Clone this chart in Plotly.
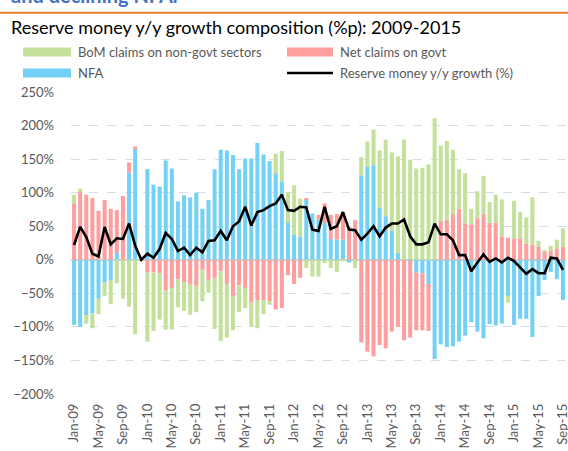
import pandas as pd
import plotly.graph_objects as go

# ---------------- data ----------------
months = [d.strftime("%b-%y") for d in pd.date_range("2009-01-01", "2015-09-01", freq="MS")]
tick_labels = months[::4]

nfa = [-97, -100, -83, -80, -58, -34, -30, 10, 0, 130, 165, 0,
       135, 112, 109, 148, 136, 87, 96, 93, 100, 76, 89, 135,
       164, 163, 156, 135, 151, 151, 174, 157, 147, 129, 117, 56,
       38, 34, 90, 69, 60, 55, 31, 30, 30, -4, 0, 126,
       139, 141, 78, 65, 43, 10, 0, -1, -19, -20, -36, -148,
       -126, -130, -129, -122, -113, -93, -107, -117, -96, -98, -95, -54,
       -97, -88, -88, -115, -54, -30, -18, -29, -60]

govt = [84, 101, 97, 92, 73, 89, 76, 64, 95, 15, 4, 0,
        -19, -19, -20, -45, -42, -29, -34, -36, -39, -15, -30, -27,
        -17, -36, -54, -38, -42, -63, -60, -60, -62, -74, -72, -23,
        -36, -27, 2, 0, 7, 29, 36, 38, 41, 49, 59, -123,
        -137, -144, -127, -132, -107, -100, -120, -115, -86, -85, -70, 0,
        58, 60, 68, 76, 54, 53, 62, 68, 55, 55, 35, 33,
        32, 32, 24, 23, 19, 12, 14, 17, 19]

bom = [13, 5, -12, -22, -23, -20, -36, -35, -58, -70, -111, 0,
       -103, -87, -69, -59, -62, -42, -42, -46, -39, -47, -19, -76,
       -104, -80, -51, -40, -30, -37, -42, -21, -5, 29, 45, 45,
       73, 57, -12, -25, -25, -5, -12, -18, -2, 0, -12, 27,
       37, 53, 85, 114, 117, 144, 179, 149, 136, 137, 142, 211,
       112, 117, 96, 59, 75, 23, 40, 57, 31, 42, 55, -10,
       56, 39, 39, 70, 9, 2, 7, 13, 28]

reserve = [22, 49, 34, 9, 5, 49, 23, 32, 31, 54, 21, 0,
           9, 3, 16, 40, 31, 13, 18, 7, 18, 11, 28, 29,
           43, 29, 50, 57, 79, 51, 71, 74, 80, 84, 97, 74,
           73, 79, 78, 45, 43, 79, 46, 50, 71, 45, 44, 30,
           39, 50, 35, 48, 54, 54, 60, 35, 23, 23, 26, 54,
           38, 38, 29, 7, 7, -17, -4, 8, -3, 2, -4, 3,
           -2, -11, -21, -14, -20, -20, 3, 2, -15]

names = ["BoM claims on non-govt sectors", "Net claims on govt", "NFA",
         "Reserve money y/y growth (%)"]
colors = {"bom": "#C3E19B", "govt": "#FF9E9E", "nfa": "#74D1F6", "line": "#000000"}

# ---------------- layout geometry ----------------
W, H = 568, 451
L, R, T, B = 71, 2, 92, 57
FONT = "Lato"
GREY = "#595959"


def px(x):
    return (x - L) / (W - L - R)


def py(y):
    return (H - B - y) / (H - T - B)


fig = go.Figure()
fig.add_trace(go.Bar(x=months, y=nfa, name=names[2], marker_color=colors["nfa"],
                     marker_line_width=0, showlegend=False))
fig.add_trace(go.Bar(x=months, y=govt, name=names[1], marker_color=colors["govt"],
                     marker_line_width=0, showlegend=False))
fig.add_trace(go.Bar(x=months, y=bom, name=names[0], marker_color=colors["bom"],
                     marker_line_width=0, showlegend=False))
fig.add_trace(go.Scatter(x=months, y=reserve, name=names[3], mode="lines",
                         line=dict(color=colors["line"], width=2.6), showlegend=False))

shapes = []
annotations = []

# header remnants
annotations.append(dict(text="<b>and declining NFA.</b>", x=px(9), y=py(-5), xref="paper", yref="paper",
                        xanchor="left", yanchor="middle", showarrow=False,
                        font=dict(family=FONT, size=20, color="#4472C4")))
shapes.append(dict(type="line", xref="paper", yref="paper", x0=px(0), x1=px(W), y0=py(12.7), y1=py(12.7),
                   line=dict(color="#ED7D31", width=2)))
annotations.append(dict(text="Reserve money y/y growth composition (%p): 2009-2015", x=px(9), y=py(27),
                        xref="paper", yref="paper", xanchor="left", yanchor="middle", showarrow=False,
                        font=dict(family=FONT, size=18, color="#000000")))

# manual legend
legend_items = [
    (names[0], colors["bom"], "bar", 23, 71, 52),
    (names[1], colors["govt"], "bar", 287, 333, 52),
    (names[2], colors["nfa"], "bar", 23, 71, 73),
    (names[3], colors["line"], "line", 287, 333, 73),
]
for label, col, kind, x0, x1, yc in legend_items:
    if kind == "bar":
        shapes.append(dict(type="rect", xref="paper", yref="paper", x0=px(x0), x1=px(x1),
                           y0=py(yc - 4.5), y1=py(yc + 4.5), line=dict(width=0), fillcolor=col))
    else:
        shapes.append(dict(type="line", xref="paper", yref="paper", x0=px(x0), x1=px(x1),
                           y0=py(yc), y1=py(yc), line=dict(color=col, width=2.6)))
    annotations.append(dict(text=label, x=px(x1 + 5), y=py(yc), xref="paper", yref="paper",
                            xanchor="left", yanchor="middle", showarrow=False,
                            font=dict(family=FONT, size=13, color=GREY)))

fig.update_layout(
    width=W, height=H,
    margin=dict(l=L, r=R, t=T, b=B, autoexpand=False),
    paper_bgcolor="white", plot_bgcolor="white",
    barmode="relative", bargap=0.34,
    font=dict(family=FONT, size=13, color=GREY),
    shapes=shapes, annotations=annotations,
    showlegend=False,
)
fig.update_xaxes(type="category", categoryorder="array", categoryarray=months,
                 tickmode="array", tickvals=tick_labels, ticktext=tick_labels,
                 tickangle=-90, tickfont=dict(family=FONT, size=13, color=GREY),
                 showgrid=False, showline=False, ticks="", ticklabelstandoff=6)
fig.update_yaxes(range=[-200, 250], dtick=50, ticksuffix="%",
                 tickfont=dict(family=FONT, size=13, color=GREY),
                 showgrid=True, gridcolor="#D5DDEA", griddash="dash", gridwidth=1,
                 zeroline=True, zerolinecolor="#D0D0D0", zerolinewidth=2,
                 showline=False, ticks="", ticklabelstandoff=16)

fig.write_html("out.html", config={"displayModeBar": False},
               post_script="document.body.style.margin='0px';document.body.style.overflow='hidden';")
